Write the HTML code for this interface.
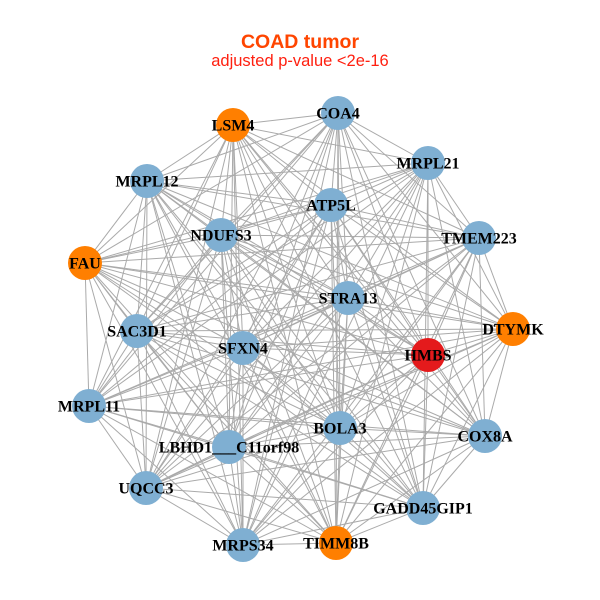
<!DOCTYPE html>
<html><head><meta charset="utf-8"><style>
html,body{margin:0;padding:0;background:#fff;}
svg{display:block}
.l{font-family:"Liberation Serif",serif;font-weight:bold;font-size:16px;fill:#000;text-anchor:middle;dominant-baseline:central}
</style></head><body>
<svg id="s" width="600" height="600" viewBox="0 0 600 600">
<text x="300" y="48" text-anchor="middle" font-family="Liberation Sans,sans-serif" font-weight="bold" font-size="19.5" fill="#FF4500">COAD tumor</text>
<text x="300" y="66" text-anchor="middle" font-family="Liberation Sans,sans-serif" font-size="16.5" fill="#FF2010">adjusted p-value &lt;2e-16</text>
<g id="e" stroke="#aaaaaa" stroke-width="1"></g>
<g id="n"></g>
<g>
<text class="l" x="233" y="126">LSM4</text>
<text class="l" x="338" y="114">COA4</text>
<text class="l" x="428" y="164">MRPL21</text>
<text class="l" x="147" y="182">MRPL12</text>
<text class="l" x="331" y="206">ATP5L</text>
<text class="l" x="221" y="236">NDUFS3</text>
<text class="l" x="479" y="239">TMEM223</text>
<text class="l" x="85" y="264">FAU</text>
<text class="l" x="348" y="299">STRA13</text>
<text class="l" x="513" y="330">DTYMK</text>
<text class="l" x="137" y="332">SAC3D1</text>
<text class="l" x="243" y="349">SFXN4</text>
<text class="l" x="428" y="356">HMBS</text>
<text class="l" x="89" y="407">MRPL11</text>
<text class="l" x="340" y="429">BOLA3</text>
<text class="l" x="485" y="437">COX8A</text>
<text class="l" x="229" y="448">LBHD1___C11orf98</text>
<text class="l" x="146" y="489">UQCC3</text>
<text class="l" x="423" y="509">GADD45GIP1</text>
<text class="l" x="243" y="546">MRPS34</text>
<text class="l" x="336" y="544">TIMM8B</text>
</g>
</svg>
<script>
var N=[[233,125,'#FF7F00'],[338,113,'#7FAFD2'],[428,163,'#7FAFD2'],[147,181,'#7FAFD2'],[331,205,'#7FAFD2'],[221,235,'#7FAFD2'],[479,238,'#7FAFD2'],[85,263,'#FF7F00'],[348,298,'#7FAFD2'],[513,329,'#FF7F00'],[137,331,'#7FAFD2'],[243,348,'#7FAFD2'],[428,355,'#E41A1C'],[89,406,'#7FAFD2'],[340,428,'#7FAFD2'],[485,436,'#7FAFD2'],[229,447,'#7FAFD2'],[146,488,'#7FAFD2'],[423,508,'#7FAFD2'],[243,545,'#7FAFD2'],[336,543,'#FF7F00']];
var ns='http://www.w3.org/2000/svg',e=document.getElementById('e'),n=document.getElementById('n');
for(var i=0;i<N.length;i++)for(var j=i+1;j<N.length;j++){var l=document.createElementNS(ns,'line');l.setAttribute('x1',N[i][0]);l.setAttribute('y1',N[i][1]);l.setAttribute('x2',N[j][0]);l.setAttribute('y2',N[j][1]);e.appendChild(l);}
for(var i=0;i<N.length;i++){var c=document.createElementNS(ns,'circle');c.setAttribute('cx',N[i][0]);c.setAttribute('cy',N[i][1]);c.setAttribute('r',17);c.setAttribute('fill',N[i][2]);n.appendChild(c);}
</script>
</body></html>
